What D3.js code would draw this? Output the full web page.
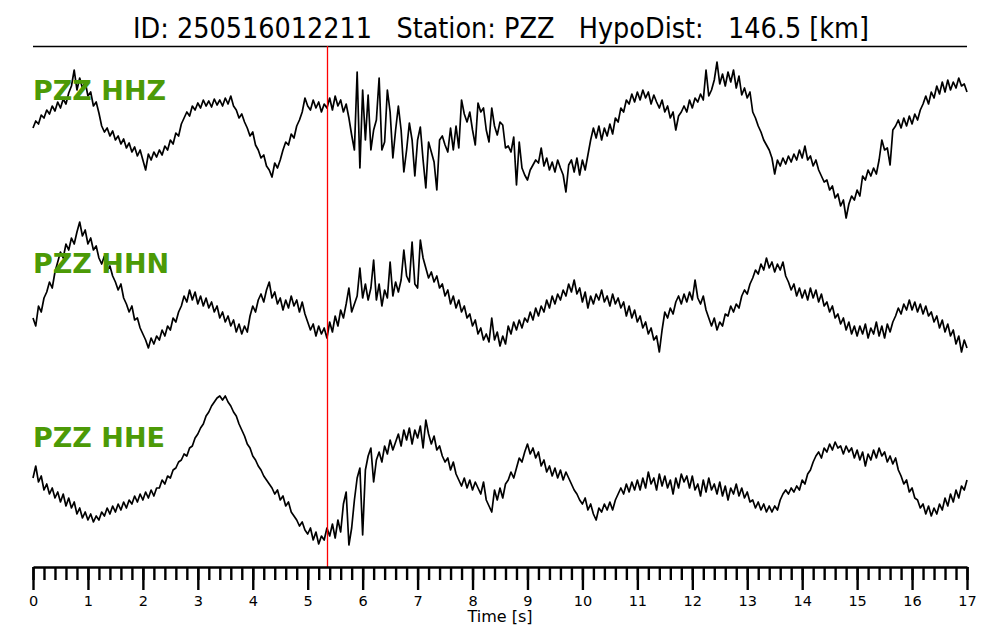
<!DOCTYPE html>
<html><head><meta charset="utf-8">
<script src="https://cdn.jsdelivr.net/npm/d3@7"></script>
<style>body{margin:0;background:#fff}svg{display:block}</style>
</head><body><svg id="chart" width="1000" height="640"></svg>
<script>
const eventId = "250516012211";
const station = "PZZ";
const hypoDistKm = 146.5;
const channels = ["HHZ", "HHN", "HHE"];
const sampleInterval = 0.05; // s
const pickTime = 5.357;      // s (red marker)
const tickLabels = [0,1,2,3,4,5,6,7,8,9,10,11,12,13,14,15,16,17];

// Amplitudes (arbitrary counts), one sample every 0.05 s
const hhz = [12,19,16,25,22,30,26,34,29,38,32,41,36,47,54,70,50,62,52,58,
44,48,34,38,27,14,8,12,4,9,0,4,-4,1,-8,-3,-12,-7,-16,-10,
-20,-30,-14,-20,-12,-17,-10,-15,-6,-10,0,-4,7,4,16,22,28,24,34,30,
37,32,40,34,39,33,41,35,40,34,42,36,44,34,30,22,26,18,12,4,
8,-5,-10,-18,-15,-26,-30,-37,-23,-28,-20,-10,-2,-5,6,2,14,20,28,42,
34,30,40,32,38,28,36,32,42,30,44,34,40,28,36,22,5,-10,68,-28,
50,0,45,-10,10,20,62,-10,-2,50,28,-18,10,34,10,-32,-10,17,0,-36,
0,13,-20,-48,-2,-12,-22,-50,0,4,-5,-12,12,-10,14,-8,40,26,18,28,
10,-5,37,28,32,10,-2,32,14,5,18,15,-8,-6,-12,3,-45,-2,-28,-35,
-40,-30,-25,-20,-23,-8,-26,-18,-30,-22,-32,-20,-28,-35,-52,-25,-20,-32,-18,-35,
-20,-30,-15,0,12,2,14,0,12,4,16,6,22,18,32,28,40,36,46,38,
48,40,50,42,48,36,45,38,32,40,28,34,22,28,10,24,28,34,28,40,
32,42,38,46,40,70,44,50,60,78,56,66,54,68,58,70,52,64,45,52,
42,48,28,22,14,8,0,-5,-10,-18,-34,-20,-26,-18,-24,-16,-22,-14,-20,-10,
-18,-6,-20,-16,-26,-20,-30,-36,-42,-40,-50,-46,-58,-54,-66,-60,-78,-64,-56,-60,
-50,-56,-36,-40,-30,-36,-28,-34,-20,0,-10,-8,-25,10,14,20,12,22,14,24,
16,26,20,30,36,44,36,48,42,54,46,58,48,60,50,58,52,62,54,56,
48];

const hhn = [-28,-36,-16,-22,-8,-2,8,2,18,28,38,32,46,40,52,46,58,68,54,60,
46,52,40,44,32,26,34,20,24,14,8,0,6,-8,-14,-22,-16,-30,-28,-38,
-44,-50,-58,-48,-54,-46,-50,-40,-46,-36,-40,-28,-32,-22,-16,-6,-12,0,-10,-2,
-14,-6,-16,-8,-18,-12,-22,-16,-28,-22,-32,-26,-36,-30,-42,-34,-44,-36,-42,-26,
-16,-22,-10,-4,-12,0,8,-8,-2,-14,-8,-20,-10,-18,-6,-16,-10,-22,-12,-24,
-32,-40,-34,-46,-36,-44,-38,-48,-32,-42,-26,-36,-20,-28,-14,2,-22,-14,-6,22,
-8,6,-10,2,30,-10,6,-16,0,-8,28,-6,8,-2,10,40,14,8,48,6,
2,50,32,22,12,18,8,14,2,6,-6,0,-14,-6,-18,-10,-22,-16,-28,-24,
-36,-30,-44,-38,-50,-44,-52,-28,-50,-42,-56,-46,-54,-36,-44,-32,-40,-30,-38,-28,
-32,-22,-30,-18,-26,-16,-22,-10,-18,-6,-14,-4,-10,0,-6,6,-2,10,-4,2,
-12,-2,-18,-6,-14,-4,-10,0,-12,-6,-16,-4,-14,-8,-18,-12,-26,-16,-28,-20,
-32,-26,-38,-32,-44,-38,-50,-46,-62,-40,-22,-28,-18,-24,-12,-6,-14,-4,-12,-2,
-10,10,-8,-14,-6,-20,-28,-36,-28,-40,-32,-36,-24,-26,-16,-22,-14,-18,-6,0,
-4,6,12,20,16,26,20,32,22,28,18,26,20,28,14,8,0,6,-6,2,
-8,0,-10,2,-8,0,-12,-4,-16,-12,-22,-16,-28,-24,-34,-28,-40,-32,-44,-36,
-46,-36,-44,-34,-48,-38,-44,-32,-46,-36,-48,-34,-42,-32,-26,-18,-24,-14,-20,-10,
-20,-12,-22,-14,-24,-16,-26,-22,-32,-26,-38,-30,-42,-34,-46,-40,-54,-46,-62,-50,
-58];

const hhe = [-8,4,-12,-6,-20,-14,-24,-18,-28,-22,-32,-24,-36,-28,-38,-32,-44,-38,-48,-42,
-50,-44,-52,-46,-50,-42,-46,-38,-44,-36,-42,-34,-40,-32,-38,-30,-34,-26,-32,-24,
-30,-22,-28,-20,-26,-18,-18,-10,-14,-6,-8,0,2,8,10,16,14,22,24,32,
36,42,46,54,58,64,68,72,74,70,74,68,64,58,54,46,40,34,26,22,
14,10,4,0,-6,-10,-14,-18,-24,-20,-30,-26,-36,-32,-42,-46,-50,-56,-52,-60,
-64,-58,-70,-62,-74,-66,-70,-58,-66,-54,-68,-50,-62,-34,-22,-75,-58,-30,-8,2,
-65,0,14,22,-12,10,18,8,24,16,30,20,28,36,24,40,30,42,26,40,
32,44,22,50,36,26,34,20,24,14,8,12,0,8,-4,-10,-16,-8,-18,-10,
-20,-12,-18,-24,-12,-30,-36,-42,-20,-30,-18,-28,-14,-10,-2,-8,2,12,8,18,
26,16,22,12,18,4,10,-2,4,-6,2,-8,0,-10,-2,-8,-14,-20,-24,-30,
-34,-28,-40,-34,-44,-50,-38,-42,-34,-40,-32,-40,-30,-24,-18,-24,-14,-22,-12,-20,
-10,-20,-8,-18,-2,-14,-8,-20,-4,-16,-6,-18,-10,-24,-8,-18,-4,-12,-6,-18,
-6,-20,-14,-26,-10,-22,-8,-20,-14,-24,-12,-26,-16,-30,-18,-24,-14,-26,-18,-28,
-22,-32,-30,-38,-32,-40,-34,-42,-36,-42,-36,-40,-30,-24,-20,-24,-18,-22,-16,-20,
-10,-14,-4,0,8,14,18,12,22,18,26,20,28,22,24,16,24,18,22,12,
20,10,18,4,16,10,20,12,22,14,18,8,14,6,12,0,-6,-14,-10,-22,
-18,-28,-30,-38,-34,-44,-36,-46,-38,-44,-34,-40,-28,-36,-24,-32,-20,-28,-16,-20,
-10];

const traces = [hhz, hhn, hhe];

// ---------- drawing ----------
const svg = d3.select("#chart");
svg.append("rect").attr("width", 1000).attr("height", 640).attr("fill", "#fff");

const x = d3.scaleLinear().domain([0, 17]).range([33, 967]);
const axisY = 567;
const bandCenters = [140, 290, 470];
const green = "#4c9a06";

// title
svg.append("text")
  .attr("x", 501).attr("y", 38)
  .attr("text-anchor", "middle")
  .attr("font-family", "'DejaVu Sans Condensed', 'DejaVu Sans', sans-serif")
  .attr("font-size", 28)
  .attr("textLength", 736).attr("lengthAdjust", "spacingAndGlyphs")
  .style("white-space", "pre")
  .text(`ID: ${eventId}   Station: ${station}   HypoDist:   ${hypoDistKm.toFixed(1)} [km]`);

svg.append("line")
  .attr("x1", 33).attr("x2", 967).attr("y1", 46.5).attr("y2", 46.5)
  .attr("stroke", "#000").attr("stroke-width", 1.5);

// traces
traces.forEach((vals, i) => {
  const c = bandCenters[i];
  const y = d3.scaleLinear().domain([-100, 100]).range([c + 100, c - 100]);
  const line = d3.line().x((d, k) => x(k * sampleInterval)).y(d => y(d));
  svg.append("path")
    .datum(vals)
    .attr("d", line)
    .attr("fill", "none")
    .attr("stroke", "#000")
    .attr("stroke-width", 1.7)
    .attr("stroke-linejoin", "round");
});

// labels (drawn above traces)
channels.forEach((ch, i) => {
  svg.append("text")
    .attr("x", 33).attr("y", [100, 273, 447][i])
    .attr("font-family", "'DejaVu Sans', sans-serif")
    .attr("font-weight", "bold")
    .attr("font-size", 27)
    .attr("fill", green)
    .text(`${station} ${ch}`);
});

// pick line
svg.append("line")
  .attr("x1", Math.round(x(pickTime)) + 0.5).attr("x2", Math.round(x(pickTime)) + 0.5)
  .attr("y1", 46).attr("y2", axisY)
  .attr("stroke", "#ff0000").attr("stroke-width", 1.3);

// axis: minor ticks
const minorTicks = d3.range(0, 85).map(k => k * 0.2).concat([17]);
const gMinor = svg.append("g").attr("transform", `translate(0,${axisY})`)
  .call(d3.axisBottom(x).tickValues(minorTicks).tickSize(13).tickSizeOuter(0).tickFormat(""));
gMinor.select(".domain").remove();
gMinor.selectAll("line").attr("stroke", "#000").attr("stroke-width", 2.4);

const gMajor = svg.append("g").attr("transform", `translate(0,${axisY})`)
  .call(d3.axisBottom(x).tickValues(tickLabels).tickSize(23).tickSizeOuter(0).tickFormat(d3.format("d")));
gMajor.select(".domain").attr("stroke", "#000").attr("stroke-width", 2.4);
gMajor.selectAll("line").attr("stroke", "#000").attr("stroke-width", 2.4);
gMajor.selectAll("text")
  .attr("y", 39).attr("dy", null)
  .attr("font-family", "'DejaVu Sans', sans-serif")
  .attr("font-size", 14.5).attr("fill", "#000");

svg.append("text")
  .attr("x", 500).attr("y", 622)
  .attr("text-anchor", "middle")
  .attr("font-family", "'DejaVu Sans', sans-serif")
  .attr("font-size", 16)
  .text("Time [s]");
</script>
</body></html>
